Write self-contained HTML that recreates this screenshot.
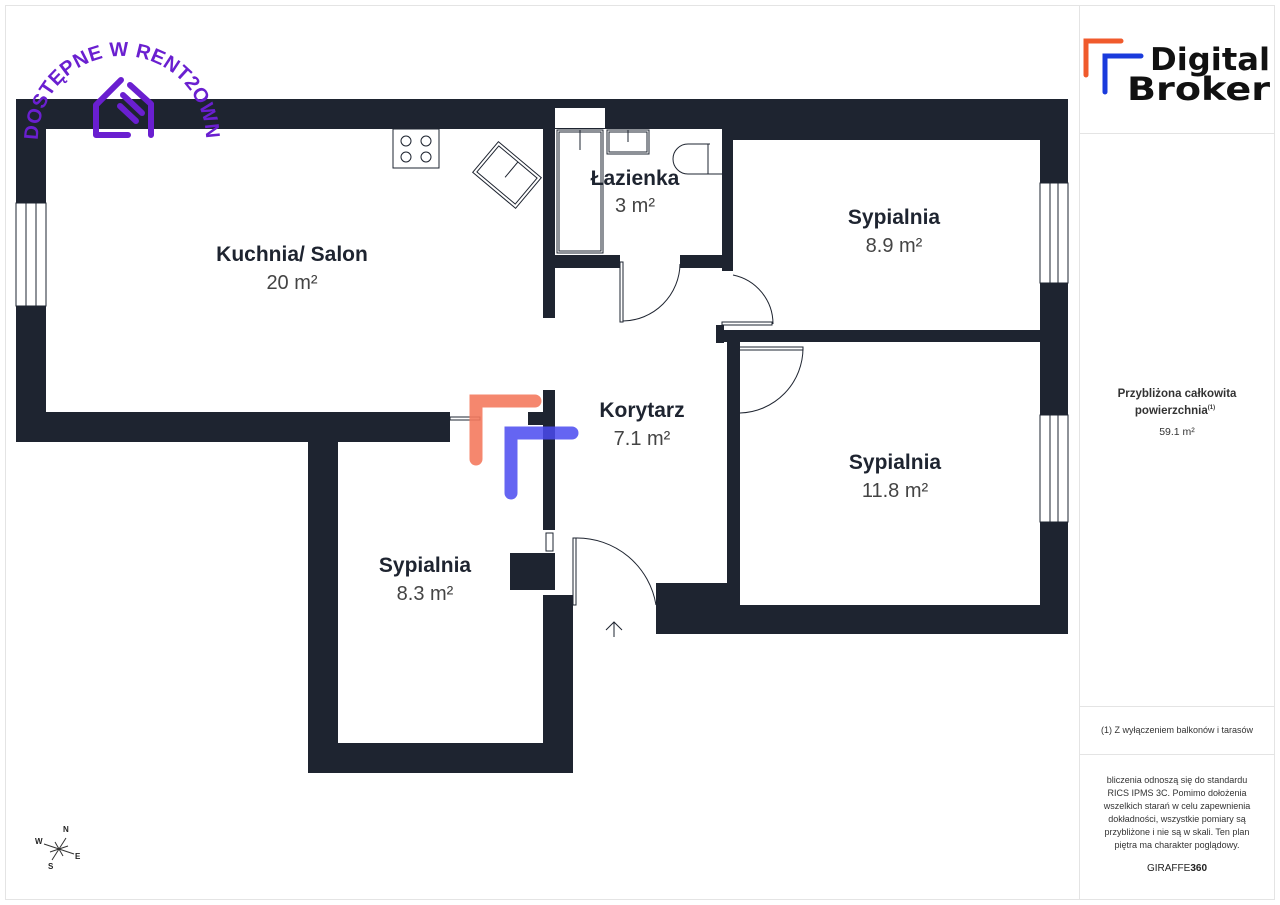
<!DOCTYPE html>
<html><head><meta charset="utf-8"><style>
body{margin:0;background:#fff;}
svg{display:block;font-family:"Liberation Sans",sans-serif;}
</style></head><body>
<svg width="1280" height="905" viewBox="0 0 1280 905" xmlns="http://www.w3.org/2000/svg">
<rect x="0" y="0" width="1280" height="905" fill="#fff"/>
<rect x="5.5" y="5.5" width="1269" height="894" fill="none" stroke="#e4e4e4"/>
<line x1="1079.5" y1="5" x2="1079.5" y2="900" stroke="#e4e4e4"/>
<line x1="1079" y1="133.5" x2="1275" y2="133.5" stroke="#e4e4e4"/>
<line x1="1079" y1="706.5" x2="1275" y2="706.5" stroke="#e4e4e4"/>
<line x1="1079" y1="754.5" x2="1275" y2="754.5" stroke="#e4e4e4"/>

<g fill="#1e2430">
<rect x="16" y="99" width="1052" height="30"/>
<rect x="733" y="99" width="335" height="41"/>
<rect x="16" y="99" width="30" height="343"/>
<rect x="16" y="412" width="434" height="30"/>
<rect x="528" y="412" width="27" height="13"/>
<rect x="308" y="412" width="30" height="361"/>
<rect x="308" y="743" width="265" height="30"/>
<rect x="543" y="595" width="30" height="178"/>
<rect x="543" y="390" width="12" height="140"/>
<rect x="510" y="553" width="45" height="37"/>
<rect x="543" y="120" width="12" height="198"/>
<rect x="543" y="255" width="77" height="13"/>
<rect x="680" y="255" width="53" height="13"/>
<rect x="722" y="128" width="11" height="143"/>
<rect x="716" y="325" width="8" height="18"/>
<rect x="724" y="330" width="316" height="12"/>
<rect x="1040" y="99" width="28" height="535"/>
<rect x="727" y="342" width="13" height="241"/>
<rect x="656" y="605" width="412" height="29"/>
<rect x="656" y="583" width="84" height="51"/>
</g>
<g fill="#fff" stroke="#1e2430" stroke-width="1">
<rect x="555" y="108" width="50" height="20" stroke="none"/>
<rect x="16" y="203" width="30" height="103"/>
<line x1="26" y1="203" x2="26" y2="306"/><line x1="36" y1="203" x2="36" y2="306"/>
<rect x="1040" y="183" width="28" height="100"/>
<line x1="1050" y1="183" x2="1050" y2="283"/><line x1="1058" y1="183" x2="1058" y2="283"/>
<rect x="1040" y="415" width="28" height="107"/>
<line x1="1050" y1="415" x2="1050" y2="522"/><line x1="1058" y1="415" x2="1058" y2="522"/>
<rect x="546" y="533" width="7" height="18"/>
</g>
<g fill="none" stroke="#1e2430" stroke-width="1">
<rect x="393" y="129" width="46" height="39" fill="#fff"/>
<circle cx="406" cy="141" r="5"/><circle cx="426" cy="141" r="5"/>
<circle cx="406" cy="157" r="5"/><circle cx="426" cy="157" r="5"/>
<g transform="translate(507,175) rotate(40)"><rect x="-28" y="-20" width="56" height="40"/><rect x="-25" y="-17" width="50" height="34"/><line x1="0" y1="3" x2="0" y2="-17"/></g>
<rect x="557" y="130" width="46" height="123"/><rect x="559" y="132" width="42" height="119"/>
<line x1="580" y1="130" x2="580" y2="150"/>
<rect x="607" y="130" width="42" height="24"/><rect x="609" y="132" width="38" height="20"/><line x1="628" y1="130" x2="628" y2="142"/>
<path d="M710 144 H688 A15 15 0 0 0 688 174 H722"/><line x1="708" y1="144" x2="708" y2="174"/>
<rect x="620" y="262" width="3" height="60"/>
<path d="M623 321 A58 58 0 0 0 680 264"/>
<rect x="722" y="322" width="50" height="3"/>
<path d="M773 324 A50 50 0 0 0 733 275"/>
<rect x="735" y="347" width="68" height="3"/>
<path d="M803 348 A65 65 0 0 1 740 413"/>
<rect x="573" y="538" width="3" height="67"/>
<path d="M576 538 A80 80 0 0 1 656 605"/>
<rect x="450" y="417" width="30" height="3"/>
<line x1="614" y1="637" x2="614" y2="622"/><path d="M606 630 L614 622 L622 630"/>
</g>
<g stroke-linecap="round" fill="none" stroke-width="13">
<path d="M476 459 V401 H535" stroke="#f47a5e" opacity="0.9"/>
<path d="M511 493 V433 H572" stroke="#4a4af0" opacity="0.85"/>
</g>
<g text-anchor="middle" fill="#1e2430">
<g font-weight="bold" font-size="21">
<text x="292" y="261">Kuchnia/ Salon</text>
<text x="635" y="185">Łazienka</text>
<text x="894" y="224">Sypialnia</text>
<text x="642" y="417">Korytarz</text>
<text x="895" y="469">Sypialnia</text>
<text x="425" y="572">Sypialnia</text>
</g>
<g font-size="20" fill="#444">
<text x="292" y="289">20 m²</text>
<text x="635" y="212">3 m²</text>
<text x="894" y="252">8.9 m²</text>
<text x="642" y="445">7.1 m²</text>
<text x="895" y="497">11.8 m²</text>
<text x="425" y="600">8.3 m²</text>
</g>
</g>
<defs><path id="arc" d="M38 140 A84 84 0 0 1 206 140"/></defs>
<text font-size="20" font-weight="bold" fill="#6a1fd0"><textPath href="#arc" startOffset="0" textLength="262" lengthAdjust="spacing">DOSTĘPNE W RENT2OWN</textPath></text>
<g fill="none" stroke="#6a1fd0" stroke-width="6" stroke-linecap="round" stroke-linejoin="round">
<path d="M121 80 L96 105 V135 H128"/><path d="M123 95 L142 113"/><path d="M130 85 L151 104 V135"/><path d="M120 106 L136 121"/>
</g>
<g stroke="#333" stroke-width="1">
<line x1="44" y1="844" x2="74" y2="854"/><line x1="52" y1="860" x2="66" y2="838"/><line x1="50" y1="852" x2="68" y2="846"/><line x1="55" y1="842" x2="63" y2="856"/>
</g>
<g font-size="8" font-weight="bold" fill="#222">
<text x="63" y="832">N</text><text x="35" y="844">W</text><text x="75" y="859">E</text><text x="48" y="869">S</text>
</g>
<g stroke-linecap="round" fill="none" stroke-width="5">
<path d="M1086 75 V41 H1121" stroke="#f05a2c"/>
<path d="M1105 92 V56 H1141" stroke="#1a3bdc"/>
</g>
<text x="1150" y="70" font-size="31" fill="#111" font-weight="bold" textLength="120" lengthAdjust="spacingAndGlyphs" font-family="'DejaVu Sans',sans-serif">Digital</text>
<text x="1127" y="100" font-size="32" font-weight="bold" fill="#111" textLength="143" lengthAdjust="spacingAndGlyphs" font-family="'DejaVu Sans',sans-serif">Broker</text>
<g text-anchor="middle" fill="#333" font-size="11.5">
<text x="1177" y="397" font-weight="bold">Przybliżona całkowita</text>
<text x="1175" y="414" font-weight="bold">powierzchnia<tspan font-size="6" dy="-5">(1)</tspan></text>
<text x="1177" y="435" font-size="10.5">59.1 m²</text>
<text x="1177" y="733" font-size="9">(1) Z wyłączeniem balkonów i tarasów</text>
<g font-size="9">
<text x="1177" y="783">bliczenia odnoszą się do standardu</text>
<text x="1177" y="796">RICS IPMS 3C. Pomimo dołożenia</text>
<text x="1177" y="809">wszelkich starań w celu zapewnienia</text>
<text x="1177" y="822">dokładności, wszystkie pomiary są</text>
<text x="1177" y="835">przybliżone i nie są w skali. Ten plan</text>
<text x="1177" y="848">piętra ma charakter poglądowy.</text>
</g>
<text x="1177" y="871" font-size="10" fill="#222">GIRAFFE<tspan font-weight="bold">360</tspan></text>
</g>
</svg>
</body></html>
